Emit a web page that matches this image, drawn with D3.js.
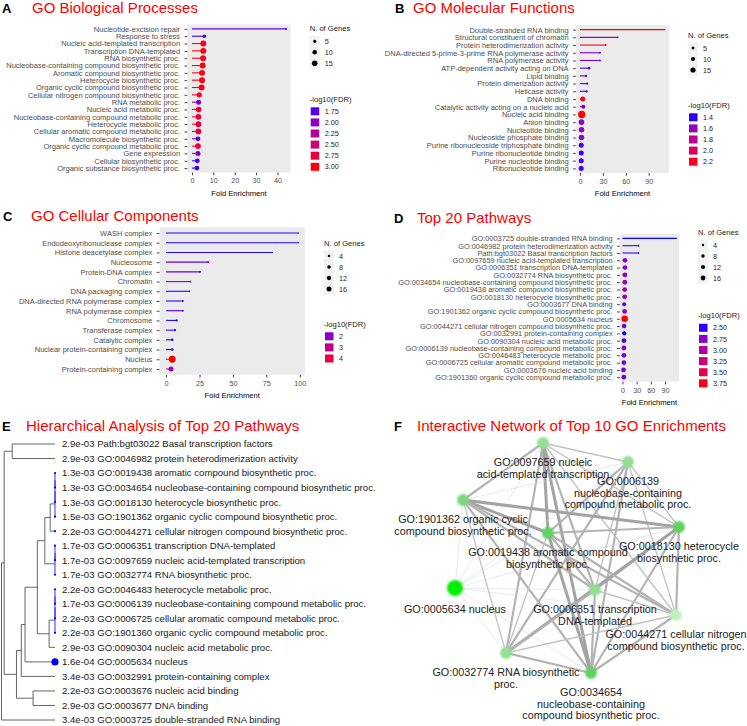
<!DOCTYPE html>
<html><head><meta charset="utf-8">
<script src="https://cdn.jsdelivr.net/npm/d3@7/dist/d3.min.js"></script>
<style>html,body{margin:0;padding:0;background:#fff;} svg{display:block;}</style>
</head><body>
<svg id="chart" width="747" height="726"></svg>
<script>
// ---------------- DATA ----------------
// A: GO Biological Processes
const bpTerms = ["Nucleotide-excision repair","Response to stress","Nucleic acid-templated transcription","Transcription DNA-templated","RNA biosynthetic proc.","Nucleobase-containing compound biosynthetic proc.","Aromatic compound biosynthetic proc.","Heterocycle biosynthetic proc.","Organic cyclic compound biosynthetic proc.","Cellular nitrogen compound biosynthetic proc.","RNA metabolic proc.","Nucleic acid metabolic proc.","Nucleobase-containing compound metabolic proc.","Heterocycle metabolic proc.","Cellular aromatic compound metabolic proc.","Macromolecule biosynthetic proc.","Organic cyclic compound metabolic proc.","Gene expression","Cellular biosynthetic proc.","Organic substance biosynthetic proc."];
const bpFold = [44, 5.8, 5.3, 5.3, 5.2, 5.0, 4.7, 4.7, 4.5, 3.4, 3.1, 3.1, 3.0, 3.0, 3.0, 2.8, 2.8, 2.8, 2.5, 2.3];
const bpGenes = [2, 6, 17, 17, 17, 17, 17, 17, 17, 13, 12, 15, 16, 16, 16, 11, 16, 12, 11, 11];
const bpLogFDR = [1.8, 1.7, 2.98, 2.98, 2.92, 3.0, 2.97, 2.97, 2.95, 2.85, 1.92, 2.72, 2.8, 2.8, 2.8, 1.78, 2.8, 1.85, 1.72, 1.7];
const bpTicks = [0, 10, 20, 30, 40];
const bpSizeLegend = [5, 10, 15];
const bpColorLegend = [1.75, 2.00, 2.25, 2.50, 2.75, 3.00];

// B: GO Molecular Functions
const mfTerms = ["Double-stranded RNA binding","Structural constituent of chromatin","Protein heterodimerization activity","DNA-directed 5-prime-3-prime RNA polymerase activity","RNA polymerase activity","ATP-dependent activity acting on DNA","Lipid binding","Protein dimerization activity","Helicase activity","DNA binding","Catalytic activity acting on a nucleic acid","Nucleic acid binding","Anion binding","Nucleotide binding","Nucleoside phosphate binding","Purine ribonucleoside triphosphate binding","Purine ribonucleotide binding","Purine nucleotide binding","Ribonucleotide binding"];
const mfFold = [111, 49.4, 33.6, 26.2, 26.2, 11.8, 7.9, 9.2, 8.7, 3.5, 4.4, 2.2, 1.9, 1.9, 1.9, 1.6, 1.6, 1.6, 1.5];
const mfGenes = [1, 2, 2, 2, 2, 4, 3, 3, 3, 14, 9, 29, 17, 17, 17, 14, 14, 14, 14];
const mfLogFDR = [2.25, 1.6, 2.2, 1.51, 1.51, 1.47, 1.44, 1.44, 1.4, 2.2, 1.55, 2.25, 1.6, 1.6, 1.6, 1.42, 1.42, 1.42, 1.42];
const mfTicks = [0, 30, 60, 90];
const mfSizeLegend = [5, 10, 15];
const mfColorLegend = [1.4, 1.6, 1.8, 2.0, 2.2];

// C: GO Cellular Components
const ccTerms = ["WASH complex","Endodeoxyribonuclease complex","Histone deacetylase complex","Nucleosome","Protein-DNA complex","Chromatin","DNA packaging complex","DNA-directed RNA polymerase complex","RNA polymerase complex","Chromosome","Transferase complex","Catalytic complex","Nuclear protein-containing complex","Nucleus","Protein-containing complex"];
const ccFold = [99, 99, 79.5, 31.6, 25.4, 18.4, 17.4, 12.6, 12.6, 7.9, 6.7, 4.6, 4.6, 4.6, 3.7];
const ccGenes = [1, 1, 1, 2, 2, 2, 2, 2, 2, 3, 3, 4, 4, 30, 16];
const ccLogFDR = [1.35, 1.35, 1.35, 1.63, 1.63, 2.1, 1.45, 1.4, 1.5, 1.35, 1.4, 1.35, 1.35, 4.6, 2.3];
const ccTicks = [0, 25, 50, 75, 100];
const ccSizeLegend = [4, 8, 12, 16];
const ccColorLegend = [2, 3, 4];

// D: Top 20 Pathways
const pwTerms = ["GO:0003725 double-stranded RNA binding","GO:0046982 protein heterodimerization activity","Path:bgt03022 Basal transcription factors","GO:0097659 nucleic acid-templated transcription","GO:0006351 transcription DNA-templated","GO:0032774 RNA biosynthetic proc.","GO:0034654 nucleobase-containing compound biosynthetic proc.","GO:0019438 aromatic compound biosynthetic proc.","GO:0018130 heterocycle biosynthetic proc.","GO:0003677 DNA binding","GO:1901362 organic cyclic compound biosynthetic proc.","GO:0005634 nucleus","GO:0044271 cellular nitrogen compound biosynthetic proc.","GO:0032991 protein-containing complex","GO:0090304 nucleic acid metabolic proc.","GO:0006139 nucleobase-containing compound metabolic proc.","GO:0046483 heterocycle metabolic proc.","GO:0006725 cellular aromatic compound metabolic proc.","GO:0003676 nucleic acid binding","GO:1901360 organic cyclic compound metabolic proc."];
const pwFold = [114, 34.3, 34.3, 5.3, 5.3, 5.2, 5.0, 4.7, 4.7, 3.5, 4.5, 4.6, 3.4, 3.7, 3.1, 3.0, 3.0, 3.0, 2.2, 2.8];
const pwGenes = [1, 2, 2, 15, 15, 15, 16, 16, 16, 11, 16, 30, 15, 12, 16, 16, 16, 16, 16, 16];
const pwFDR = [3.4e-3, 2.9e-3, 2.9e-3, 1.7e-3, 1.7e-3, 1.7e-3, 1.3e-3, 1.3e-3, 1.3e-3, 2.9e-3, 1.5e-3, 1.6e-4, 2.2e-3, 3.4e-3, 2.9e-3, 1.7e-3, 2.2e-3, 2.2e-3, 2.2e-3, 2.2e-3];
const pwTicks = [0, 30, 60, 90];
const pwSizeLegend = [4, 8, 12, 16];
const pwColorLegend = [2.50, 2.75, 3.00, 3.25, 3.50, 3.75];

// E: Hierarchical clustering of top 20 pathways
const treeLeaves = ["2.9e-03 Path:bgt03022 Basal transcription factors","2.9e-03 GO:0046982 protein heterodimerization activity","1.3e-03 GO:0019438 aromatic compound biosynthetic proc.","1.3e-03 GO:0034654 nucleobase-containing compound biosynthetic proc.","1.3e-03 GO:0018130 heterocycle biosynthetic proc.","1.5e-03 GO:1901362 organic cyclic compound biosynthetic proc.","2.2e-03 GO:0044271 cellular nitrogen compound biosynthetic proc.","1.7e-03 GO:0006351 transcription DNA-templated","1.7e-03 GO:0097659 nucleic acid-templated transcription","1.7e-03 GO:0032774 RNA biosynthetic proc.","2.2e-03 GO:0046483 heterocycle metabolic proc.","1.7e-03 GO:0006139 nucleobase-containing compound metabolic proc.","2.2e-03 GO:0006725 cellular aromatic compound metabolic proc.","2.2e-03 GO:1901360 organic cyclic compound metabolic proc.","2.9e-03 GO:0090304 nucleic acid metabolic proc.","1.6e-04 GO:0005634 nucleus","3.4e-03 GO:0032991 protein-containing complex","2.2e-03 GO:0003676 nucleic acid binding","2.9e-03 GO:0003677 DNA binding","3.4e-03 GO:0003725 double-stranded RNA binding"];
const treeLeafMark = [0,0,1,1,1,1,1,1,1,1,1,1,1,1,0,2,0,0,0,0];
// merge tree: h = merge height (distance), c = children (numbers are leaf indices)
const treeMerge = {h:1.0, c:[
  {h:0.95, c:[
    {h:0.80, c:[0,1]},
    {h:0.72, c:[
      {h:0.63, c:[
        {h:0.56, c:[
          {h:0.33, c:[
            {h:0.19, c:[
              {h:0.09, c:[{h:0, c:[{h:0, c:[{h:0, c:[2,3]},4]},5]},6]},
              {h:0, c:[{h:0, c:[7,8]},9]}
            ]},
            {h:0.11, c:[{h:0, c:[{h:0, c:[{h:0, c:[10,11]},12]},13]},14]}
          ]},
          15]},
        16]},
      {h:0.41, c:[17,18]}
    ]}
  ]},
  19]};

// F: network of top 10 GO enrichments
const netTerms = ["GO:0097659 nucleic\nacid-templated transcription","GO:0006139\nnucleobase-containing\ncompound metabolic proc.","GO:1901362 organic cyclic\ncompound biosynthetic proc.","GO:0018130 heterocycle\nbiosynthetic proc.","GO:0019438 aromatic compound\nbiosynthetic proc.","GO:0005634 nucleus","GO:0006351 transcription\nDNA-templated","GO:0044271 cellular nitrogen\ncompound biosynthetic proc.","GO:0032774 RNA biosynthetic\nproc.","GO:0034654\nnucleobase-containing\ncompound biosynthetic proc."];
const netFDR = [1.7e-3, 1.7e-3, 1.5e-3, 1.3e-3, 1.3e-3, 1.6e-4, 1.7e-3, 2.2e-3, 1.7e-3, 1.3e-3];
const netGenes = [17, 17, 17, 17, 17, 30, 17, 17, 17, 17];
// edges: [source, target, overlap strength 1..4]
const netEdges = [[0,1,2],[0,2,3],[0,3,2],[0,4,4],[0,5,1],[0,6,3],[0,7,2],[0,8,3],[0,9,4],
 [1,2,1],[1,3,2],[1,4,3],[1,5,1],[1,6,2],[1,7,2],[1,8,3],[1,9,3],
 [2,3,4],[2,4,4],[2,5,1],[2,6,3],[2,7,3],[2,8,2],[2,9,3],
 [3,4,3],[3,5,1],[3,6,3],[3,7,3],[3,8,4],[3,9,3],
 [4,5,1],[4,6,3],[4,7,3],[4,8,2],[4,9,4],
 [5,6,1],[5,7,1],[5,8,1],[5,9,1],
 [6,7,2],[6,8,3],[6,9,3],
 [7,8,2],[7,9,3],
 [8,9,3]];
// force-layout result (layout units 0..100)
const netLayout = [[41.2,1.2],[75.2,8.8],[9.2,24],[95.6,34.8],[43.2,37.2],[6,59.2],[62,60],[94.4,70],[26.4,85.2],[60.4,93.2]];

// ---------------- DRAWING ----------------
const svg = d3.select('#chart');
const SANS = '"Liberation Sans", Arial, Helvetica, sans-serif';
const TFONT = '"Liberation Sans", Arial, sans-serif';

svg.append('defs').append('filter').attr('id','soft')
  .attr('x','-50%').attr('y','-50%').attr('width','200%').attr('height','200%')
  .append('feGaussianBlur').attr('stdDeviation',0.8);

function header(letter, title, lx, tx, by) {
  svg.append('text').attr('x',lx).attr('y',by).text(letter)
    .attr('font-family',SANS).attr('font-weight','bold').attr('font-size',13).attr('fill','#000');
  svg.append('text').attr('x',tx).attr('y',by).text(title)
    .attr('font-family',TFONT).attr('font-size',15).attr('fill','#ff0000');
}

function lollipop(o) {
  const g = svg.append('g');
  const maxF = d3.max(o.fold);
  const x = d3.scaleLinear().domain([-0.05*maxF, 1.05*maxF]).range(o.px);
  const y = d3.scalePoint().domain(o.terms).range(o.py).padding(0.6);
  const col = d3.scaleLinear().domain(o.cDomain).range(['#0000ff','#ff0000']).interpolate(d3.interpolateLab).clamp(true);
  const r = d3.scaleSqrt().domain(o.sDomain).range([0, o.rMax]);
  g.append('rect').attr('x',o.px[0]).attr('y',o.py[0]).attr('width',o.px[1]-o.px[0]).attr('height',o.py[1]-o.py[0]).attr('fill','#EBEBEB');
  const rows = o.terms.map((t,i)=>({t, f:o.fold[i], n:o.genes[i], c:o.lfdr[i]}));
  g.selectAll('line.seg').data(rows).join('line').attr('class','seg')
    .attr('x1',x(0)).attr('x2',d=>x(d.f)).attr('y1',d=>y(d.t)).attr('y2',d=>y(d.t))
    .attr('stroke',d=>col(d.c)).attr('stroke-width',1.1);
  g.selectAll('circle.pt').data(rows).join('circle').attr('class','pt')
    .attr('cx',d=>x(d.f)).attr('cy',d=>y(d.t)).attr('r',d=>r(d.n)).attr('fill',d=>col(d.c));
  const ya = g.append('g').attr('transform',`translate(${o.px[0]},0)`).call(d3.axisLeft(y).tickSize(2.8).tickPadding(4.4));
  const xa = g.append('g').attr('transform',`translate(0,${o.py[1]})`).call(d3.axisBottom(x).tickValues(o.xTicks).tickSize(2.8).tickPadding(3));
  [ya,xa].forEach(a=>{
    a.select('.domain').remove();
    a.selectAll('line').attr('stroke','#333').attr('stroke-width',0.9);
    a.selectAll('text').attr('fill','#4d4d4d').attr('font-family',SANS).attr('font-size',o.fs);
  });
  xa.selectAll('text').attr('font-size',7.2);
  g.append('text').attr('x',(o.px[0]+o.px[1])/2).attr('y',o.py[1]+23).attr('text-anchor','middle')
    .attr('font-family',SANS).attr('font-size',7.6).attr('fill','#000').text('Fold Enrichment');

  // size legend
  const lx = o.px[1] + 19;
  g.append('text').attr('x',lx).attr('y',o.sTitleY+2.6).text('N. of Genes')
    .attr('font-family',SANS).attr('font-size',7.6).attr('fill','#222');
  g.append('rect').attr('x',lx).attr('y',o.sTitleY+7.5).attr('width',10).attr('height',o.sizeVals.length*11).attr('fill','#F2F2F2');
  o.sizeVals.forEach((v,i)=>{
    const cy = o.sTitleY + 13 + i*11;
    g.append('circle').attr('cx',lx+5).attr('cy',cy).attr('r',r(v)).attr('fill','#000');
    g.append('text').attr('x',lx+15).attr('y',cy+2.6).text(v)
      .attr('font-family',SANS).attr('font-size',7.2).attr('fill','#222');
  });
  // color legend
  g.append('text').attr('x',lx).attr('y',o.cTitleY+2.6).text('-log10(FDR)')
    .attr('font-family',SANS).attr('font-size',7.6).attr('fill','#222');
  o.colorVals.forEach((v,i)=>{
    const cy = o.cTitleY + 12.3 + i*11.1;
    g.append('rect').attr('x',lx+1).attr('y',cy-4).attr('width',8.5).attr('height',8).attr('fill',col(v));
    g.append('text').attr('x',lx+15).attr('y',cy+2.6).text(o.cFmt(v))
      .attr('font-family',SANS).attr('font-size',7.2).attr('fill','#222');
  });
}

// ---- A
header('A','GO Biological Processes',2,32,13.4);
lollipop({terms:bpTerms, fold:bpFold, genes:bpGenes, lfdr:bpLogFDR, px:[187.3,290.7], py:[24.5,172.5],
  cDomain:[1.65,3.02], sDomain:[0,15], rMax:2.8, xTicks:bpTicks, fs:7.5,
  sTitleY:28.3, sizeVals:bpSizeLegend, cTitleY:99, colorVals:bpColorLegend, cFmt:d3.format('.2f')});

// ---- B
header('B','GO Molecular Functions',395,413,13.4);
lollipop({terms:mfTerms, fold:mfFold, genes:mfGenes, lfdr:mfLogFDR, px:[575.8,669], py:[25,173],
  cDomain:[1.38,2.25], sDomain:[0,15], rMax:2.6, xTicks:mfTicks, fs:7.5,
  sTitleY:35, sizeVals:mfSizeLegend, cTitleY:105, colorVals:mfColorLegend, cFmt:d3.format('.1f')});

// ---- C
header('C','GO Cellular Components',3,31,220.5);
lollipop({terms:ccTerms, fold:ccFold, genes:ccGenes, lfdr:ccLogFDR, px:[159.5,305], py:[227.2,374.8],
  cDomain:[1.3,4.6], sDomain:[0,16], rMax:2.5, xTicks:ccTicks, fs:7.5,
  sTitleY:243, sizeVals:ccSizeLegend, cTitleY:324, colorVals:ccColorLegend, cFmt:d3.format('d')});

// ---- D
header('D','Top 20 Pathways',394,417,222.7);
const pwLogFDR = pwFDR.map(v => -Math.log10(v));
lollipop({terms:pwTerms, fold:pwFold, genes:pwGenes, lfdr:pwLogFDR, px:[619.8,679], py:[234,381.6],
  cDomain:[2.47,3.8], sDomain:[0,16], rMax:2.4, xTicks:pwTicks, fs:7.4,
  sTitleY:232, sizeVals:pwSizeLegend, cTitleY:315.5, colorVals:pwColorLegend, cFmt:d3.format('.2f')});

// ---- E dendrogram
header('E','Hierarchical Analysis of Top 20 Pathways',2,26,431);
(function(){
  const g = svg.append('g');
  function build(n){ return typeof n === 'number' ? {leaf:n, h:0} : {h:n.h, children:n.c.map(build)}; }
  const root = d3.hierarchy(build(treeMerge));
  const ty = d3.scalePoint().domain(d3.range(treeLeaves.length)).range([444, 720]);
  const tx = d3.scaleLinear().domain([0,1]).range([55, 1.5]);
  const markR = d3.scaleOrdinal().domain([0,1,2]).range([0,1.1,3.6]);
  root.eachAfter(n=>{
    n.px = tx(n.data.h);
    n.py = n.children ? d3.mean(n.children, c=>c.py) : ty(n.data.leaf);
  });
  root.each(n=>{
    if(!n.children) return;
    const ys = n.children.map(c=>c.py);
    const zero = n.data.h === 0;
    g.append('line').attr('x1',n.px).attr('x2',n.px).attr('y1',d3.min(ys)).attr('y2',d3.max(ys))
      .attr('stroke', zero ? '#1a1aff' : '#555').attr('stroke-width',0.9);
    n.children.forEach(c=>{
      if (Math.abs(c.px - n.px) < 0.01) return;
      g.append('line').attr('x1',n.px).attr('x2',c.px).attr('y1',c.py).attr('y2',c.py)
        .attr('stroke','#555').attr('stroke-width',0.9);
    });
  });
  treeLeaves.forEach((t,i)=>{
    const yy = ty(i);
    if (treeLeafMark[i] > 0)
      g.append('circle').attr('cx',tx(0)).attr('cy',yy).attr('r',markR(treeLeafMark[i])).attr('fill','#0000ff');
    g.append('text').attr('x',62).attr('y',yy+3.4).text(t)
      .attr('font-family',SANS).attr('font-size',9.6).attr('fill','#1a1a1a');
  });
})();

// ---- F network
header('F','Interactive Network of Top 10 GO Enrichments',394,417,431);
(function(){
  const g = svg.append('g');
  const fx = d3.scaleLinear().domain([0,100]).range([440,690]);
  const fy = d3.scaleLinear().domain([0,100]).range([440,690]);
  const nodeR = d3.scaleSqrt().domain([0,30]).range([0,8]);
  const nodeCol = d3.scaleLinear().domain([2.66,2.89,3.8]).range(['#c2f0c2','#5fcf5f','#00ee00']);
  const edgeW = d3.scaleLinear().domain([1,4]).range([0.5,3]);
  const edgeC = d3.scaleLinear().domain([1,4]).range(['#d2d2d2','#a3a3a3']);
  const nodes = netTerms.map((t,i)=>({t, x:fx(netLayout[i][0]), y:fy(netLayout[i][1]), r:nodeR(netGenes[i]), c:nodeCol(-Math.log10(netFDR[i]))}));
  g.selectAll('line.e').data(netEdges).join('line').attr('class','e')
    .attr('x1',d=>nodes[d[0]].x).attr('y1',d=>nodes[d[0]].y).attr('x2',d=>nodes[d[1]].x).attr('y2',d=>nodes[d[1]].y)
    .attr('stroke',d=>edgeC(d[2])).attr('stroke-width',d=>edgeW(d[2]));
  g.selectAll('circle.n').data(nodes).join('circle').attr('class','n')
    .attr('cx',d=>d.x).attr('cy',d=>d.y).attr('r',d=>d.r).attr('fill',d=>d.c).attr('filter','url(#soft)');
  nodes.forEach(d=>{
    const lines = d.t.split('\n');
    const txt = g.append('text').attr('text-anchor','middle').attr('font-family',SANS).attr('font-size',10.8).attr('fill','#222');
    lines.forEach((l,k)=>{
      txt.append('tspan').attr('x',d.x).attr('y',d.y + d.r + 17 + k*11.5).text(l);
    });
  });
})();
</script>
</body></html>
